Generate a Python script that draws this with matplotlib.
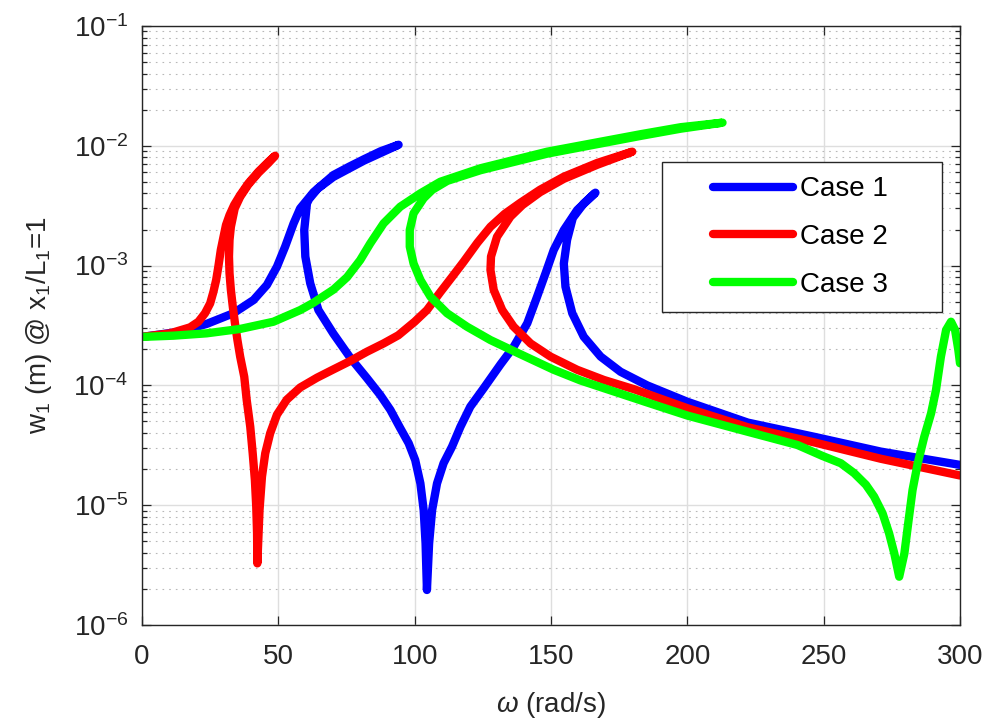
import matplotlib
matplotlib.use('Agg')
import matplotlib.pyplot as plt
from matplotlib.patches import Rectangle
from matplotlib.ticker import LogLocator, NullFormatter, NullLocator

plt.rcParams['font.family'] = ['Liberation Sans', 'DejaVu Sans']
plt.rcParams['mathtext.fontset'] = 'custom'
plt.rcParams['mathtext.rm'] = 'Liberation Sans'
plt.rcParams['mathtext.it'] = 'Liberation Sans:italic'
plt.rcParams['mathtext.default'] = 'regular'
plt.rcParams['axes.unicode_minus'] = False

# frequency response at x1/L1 = 1, each case traced along its branch (folds included)
omega_case1 = [0, 14.0, 23.7, 33.5, 40.9, 45.8, 49.5, 52.5, 55.6, 58.0, 62.9, 70.2, 76.0, 81.3,
               87.5, 94.1,
               81.3, 70.2, 64.5, 61.3, 60.5, 59.5, 59.9, 61.7, 64.7, 70.2, 76.4, 82.5, 87.4,
               91.1, 94.7, 97.8, 100.2, 102.1, 103.3, 104.0, 104.5,
               105.3, 106.4, 108.2, 110.6, 113.7, 116.8, 120.4, 125.3, 131.5, 136.3, 141.3,
               144.9, 148.0, 151.0, 154.7, 159.6, 166.3,
               162.0, 158.0, 155.9, 154.7, 155.3, 157.8, 162.0, 168.2, 175.5, 185.3, 200.0,
               222.2, 246.4, 271.0, 300.0]
w_case1 = [2.54e-4, 2.81e-4, 3.26e-4, 4.0e-4, 5.16e-4, 6.89e-4, 9.8e-4, 1.44e-3, 2.25e-3,
           3.0e-3, 4.1e-3, 5.7e-3, 6.7e-3, 7.7e-3, 9.0e-3, 1.02e-2,
           7.5e-3, 5.5e-3, 4.4e-3, 3.6e-3, 3.31e-3, 1.98e-3, 1.19e-3, 7.11e-4, 4.26e-4,
           2.7e-4, 1.7e-4, 1.15e-4, 8.3e-5, 6.24e-5, 4.4e-5, 3.29e-5, 2.38e-5, 1.52e-5,
           9.1e-6, 4.81e-6, 1.96e-6,
           4.81e-6, 9.1e-6, 1.52e-5, 2.24e-5, 3.08e-5, 4.52e-5, 6.64e-5, 9.46e-5, 1.5e-4,
           2.1e-4, 3.3e-4, 5.5e-4, 8.63e-4, 1.35e-3, 1.98e-3, 2.91e-3, 4.06e-3,
           3.3e-3, 2.5e-3, 1.64e-3, 1.04e-3, 6.67e-4, 4.0e-4, 2.55e-4, 1.74e-4, 1.30e-4,
           1.0e-4, 7.3e-5, 4.89e-5, 3.73e-5, 2.8e-5, 2.17e-5]

omega_case2 = [0, 10.3, 17.6, 20.7, 23.1, 25.0, 26.2, 27.2, 28.0, 28.9, 29.9, 30.8, 32.1,
               33.8, 36.0, 39.0, 42.7, 46.4, 48.8,
               46.4, 42.7, 39.0, 36.0, 34.0, 32.6, 32.1, 31.9, 32.1, 32.6, 33.3, 34.1, 35.0,
               36.0, 37.5, 38.4, 39.7, 40.6, 41.4, 41.9, 42.2, 42.3,
               43.1, 44.0, 45.2, 47.0, 49.5, 53.1, 58.0, 64.2, 70.2, 76.4, 82.5, 88.6, 94.0,
               100.0, 104.5, 109.4, 114.0, 118.0, 123.0, 127.8, 133.0, 138.8, 146.0, 154.7,
               167.0, 179.8,
               167.0, 154.7, 146.0, 139.5, 135.1, 130.2, 128.0, 127.8, 129.0, 132.1, 136.3,
               142.5, 149.8, 159.6, 169.4, 180.4, 200.0, 222.2, 246.4, 271.0, 300.0]
w_case2 = [2.54e-4, 2.72e-4, 3.05e-4, 3.40e-4, 4.0e-4, 4.84e-4, 6.05e-4, 7.59e-4, 9.8e-4,
           1.35e-3, 1.74e-3, 2.18e-3, 2.64e-3, 3.21e-3, 3.88e-3, 4.86e-3, 6.08e-3, 7.36e-3,
           8.26e-3,
           7.2e-3, 5.95e-3, 4.75e-3, 3.75e-3, 3.0e-3, 2.11e-3, 1.64e-3, 1.19e-3, 8.63e-4,
           6.25e-4, 4.54e-4, 3.30e-4, 2.39e-4, 1.74e-4, 1.18e-4, 7.55e-5, 4.52e-5, 2.71e-5,
           1.62e-5, 9.7e-6, 5.82e-6, 3.27e-6,
           9.1e-6, 1.73e-5, 2.71e-5, 3.98e-5, 5.7e-5, 7.6e-5, 9.6e-5, 1.16e-4, 1.36e-4,
           1.6e-4, 1.91e-4, 2.24e-4, 2.62e-4, 3.4e-4, 4.25e-4, 6.0e-4, 8.2e-4, 1.08e-3,
           1.55e-3, 2.11e-3, 2.7e-3, 3.35e-3, 4.3e-3, 5.52e-3, 7.2e-3, 8.93e-3,
           6.95e-3, 5.3e-3, 4.1e-3, 3.2e-3, 2.56e-3, 1.74e-3, 1.19e-3, 9.18e-4, 6.25e-4,
           4.26e-4, 3.09e-4, 2.24e-4, 1.74e-4, 1.35e-4, 1.11e-4, 9.3e-5, 6.45e-5, 4.47e-5,
           3.35e-5, 2.44e-5, 1.77e-5]

omega_case3 = [0, 11.5, 23.7, 36.0, 48.2, 58.0, 62.9, 70.2, 75.2, 80.0, 83.7, 88.6, 94.7,
               102.1, 109.4, 124.1, 148.6, 182.9, 197.6, 212.9,
               197.6, 182.9, 148.6, 124.1, 112.0, 106.5, 103.3, 99.6, 98.2, 98.2, 99.6, 102.1,
               105.8, 111.9, 119.2, 127.8, 138.8, 151.0, 160.8, 185.3, 200.0, 222.0, 240.4,
               249.5, 256.3, 261.2, 265.5, 268.5, 271.6, 274.0, 275.9, 277.7,
               279.6, 281.0, 282.6, 284.5, 286.9, 289.4, 291.2, 293.0, 294.9, 296.7, 298.2,
               299.4, 300.0]
w_case3 = [2.54e-4, 2.6e-4, 2.72e-4, 2.96e-4, 3.40e-4, 4.25e-4, 4.9e-4, 6.3e-4, 8.0e-4,
           1.11e-3, 1.53e-3, 2.25e-3, 3.1e-3, 4.01e-3, 5.01e-3, 6.49e-3, 8.93e-3, 1.25e-2,
           1.43e-2, 1.56e-2,
           1.39e-2, 1.21e-2, 8.6e-3, 6.25e-3, 5.1e-3, 4.3e-3, 3.65e-3, 2.73e-3, 1.98e-3,
           1.44e-3, 1.04e-3, 7.59e-4, 5.5e-4, 4.0e-4, 3.09e-4, 2.39e-4, 1.82e-4, 1.35e-4,
           1.1e-4, 7.2e-5, 5.6e-5, 4.11e-5, 3.18e-5, 2.58e-5, 2.24e-5, 1.85e-5, 1.48e-5,
           1.18e-5, 8.55e-6, 5.82e-6, 3.96e-6, 2.53e-6,
           3.96e-6, 7.06e-6, 1.34e-5, 2.24e-5, 3.73e-5, 5.85e-5, 9.16e-5, 1.74e-4, 2.9e-4,
           3.40e-4, 2.9e-4, 1.97e-4, 1.53e-4]

case_labels = ['Case 1', 'Case 2', 'Case 3']
x_ticks = [0, 50, 100, 150, 200, 250, 300]

dark = (0.15, 0.15, 0.15)

fig = plt.figure(figsize=(9.88, 7.25), dpi=100)
ax = fig.add_axes([142/988, 100/725, 818/988, 599/725])

series = [(omega_case1, w_case1, (0, 0, 1)),
          (omega_case2, w_case2, (1, 0, 0)),
          (omega_case3, w_case3, (0, 1, 0))]
for (om, w, col), lab in zip(series, case_labels):
    ax.plot(om, w, color=col, lw=6, label=lab,
            solid_capstyle='round', solid_joinstyle='round', zorder=2)

ax.set_yscale('log')
ax.set_xlim(0, 300)
ax.set_ylim(1e-6, 1e-1)
ax.set_xticks(x_ticks)
ax.xaxis.set_minor_locator(NullLocator())
ax.yaxis.set_major_locator(LogLocator(base=10, numticks=10))
ax.yaxis.set_minor_locator(LogLocator(base=10, subs=range(2, 10), numticks=20))
ax.yaxis.set_minor_formatter(NullFormatter())

ax.grid(which='major', color=(0.87, 0.87, 0.87), lw=1.0)
ax.yaxis.grid(which='minor', color=(0.72, 0.72, 0.72), lw=0.8, ls=(0, (1.5, 4.5)))
ax.set_axisbelow(True)

ax.tick_params(which='both', direction='in', top=True, right=True, color=dark,
               width=0.9, labelcolor=dark, labelsize=20)
ax.tick_params(which='major', length=6.5)
ax.tick_params(which='minor', length=3.5)
ax.tick_params(axis='x', pad=14)
ax.tick_params(axis='y', pad=10)
for sp in ax.spines.values():
    sp.set_color(dark)
    sp.set_linewidth(1.0)

ax.set_xlabel(r'$\mathit{\omega}$ (rad/s)', fontsize=20, color=dark)
ax.set_ylabel(r'w$_1$ (m) @ x$_1$/L$_1$=1', fontsize=20, color=dark)
ax.xaxis.set_label_coords(0.5, -0.108)
ax.yaxis.set_label_coords(-0.108, 0.5)

# legend box drawn separately so the wide side margins can be kept
box = Rectangle((662/988, 1 - 312/725), 280/988, 150/725, transform=fig.transFigure,
                facecolor='white', edgecolor=dark, lw=1.0, zorder=4)
ax.add_patch(box)
leg = ax.legend(loc='center left', bbox_to_anchor=(713/988, 1 - 237/725),
                bbox_transform=fig.transFigure, frameon=False, fontsize=20,
                handlelength=2.88, handletextpad=0.25, labelspacing=0.78,
                borderpad=0, borderaxespad=0)
leg.set_zorder(5)

fig.savefig('out.png', dpi=100)
